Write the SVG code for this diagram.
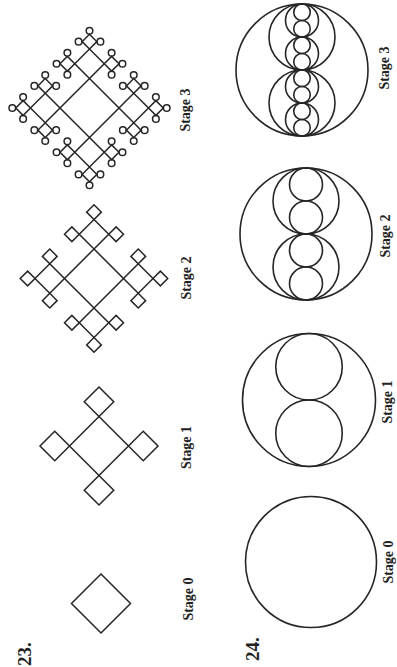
<svg xmlns="http://www.w3.org/2000/svg" xmlns:xlink="http://www.w3.org/1999/xlink" width="397" height="667" viewBox="0 0 397 667">
<style>
.ln{fill:none;stroke:#262626;stroke-width:1.5;stroke-linejoin:miter}
.cl{fill:none;stroke:#262626;stroke-width:1.6}
.lb{font-family:"Liberation Serif","Times New Roman",serif;font-size:14px;font-weight:bold;fill:#222;text-anchor:middle}
.num{font-family:"Liberation Serif","Times New Roman",serif;font-size:19px;font-weight:bold;fill:#222;text-anchor:middle}
</style>
<defs>
<path id="d2" class="ln" d="M0,0 L7.375,-7.375 L0,-14.75 L-7.375,-7.375 Z"/>
<path id="d1" class="ln" d="M0,0 L14.75,-14.75 L0,-29.5 L-14.75,-14.75 Z"/>
<path id="d0" class="ln" d="M0,-29.5 L29.5,0 L0,29.5 L-29.5,0 Z"/>
<g id="b2c">
<use xlink:href="#d2"/>
<circle class="ln" cx="0" cy="-18.2" r="3.3"/>
<circle class="ln" cx="-10.9" cy="-7.375" r="3.3"/>
<circle class="ln" cx="10.9" cy="-7.375" r="3.3"/>
</g>
<g id="b1s2">
<use xlink:href="#d1"/>
<use xlink:href="#d2" transform="translate(0,-29.5)"/>
<use xlink:href="#d2" transform="translate(-14.75,-14.75) rotate(-90)"/>
<use xlink:href="#d2" transform="translate(14.75,-14.75) rotate(90)"/>
</g>
<g id="b1s3">
<use xlink:href="#d1"/>
<use xlink:href="#b2c" transform="translate(0,-29.5)"/>
<use xlink:href="#b2c" transform="translate(-14.75,-14.75) rotate(-90)"/>
<use xlink:href="#b2c" transform="translate(14.75,-14.75) rotate(90)"/>
</g>
</defs>

<!-- Problem 23 -->
<g id="p23-stage0" transform="translate(101,603.5)">
<use xlink:href="#d0"/>
</g>
<g id="p23-stage1" transform="translate(99,446)">
<use xlink:href="#d0"/>
<use xlink:href="#d1" transform="translate(0,-29.5)"/>
<use xlink:href="#d1" transform="translate(0,29.5) rotate(180)"/>
<use xlink:href="#d1" transform="translate(-29.5,0) rotate(-90)"/>
<use xlink:href="#d1" transform="translate(29.5,0) rotate(90)"/>
</g>
<g id="p23-stage2" transform="translate(94,278.5)">
<use xlink:href="#d0"/>
<use xlink:href="#b1s2" transform="translate(0,-29.5)"/>
<use xlink:href="#b1s2" transform="translate(0,29.5) rotate(180)"/>
<use xlink:href="#b1s2" transform="translate(-29.5,0) rotate(-90)"/>
<use xlink:href="#b1s2" transform="translate(29.5,0) rotate(90)"/>
</g>
<g id="p23-stage3" transform="translate(89.5,108)">
<use xlink:href="#d0"/>
<use xlink:href="#b1s3" transform="translate(0,-29.5)"/>
<use xlink:href="#b1s3" transform="translate(0,29.5) rotate(180)"/>
<use xlink:href="#b1s3" transform="translate(-29.5,0) rotate(-90)"/>
<use xlink:href="#b1s3" transform="translate(29.5,0) rotate(90)"/>
</g>

<!-- Problem 24 -->
<g id="p24-stage0">
<circle class="cl" cx="311" cy="562" r="65.5"/>
</g>
<g id="p24-stage1" transform="translate(309,400)">
<circle class="cl" r="66.5"/>
<circle class="cl" cy="-33.25" r="33.25"/>
<circle class="cl" cy="33.25" r="33.25"/>
</g>
<g id="p24-stage2" transform="translate(306,234)">
<circle class="cl" r="66"/>
<circle class="cl" cy="-33" r="33"/>
<circle class="cl" cy="33" r="33"/>
<circle class="cl" cy="-49.5" r="16.5"/>
<circle class="cl" cy="-16.5" r="16.5"/>
<circle class="cl" cy="16.5" r="16.5"/>
<circle class="cl" cy="49.5" r="16.5"/>
</g>
<g id="p24-stage3" transform="translate(302,70)">
<circle class="cl" r="66"/>
<circle class="cl" cy="-33" r="33"/>
<circle class="cl" cy="33" r="33"/>
<circle class="cl" cy="-49.5" r="16.5"/>
<circle class="cl" cy="-16.5" r="16.5"/>
<circle class="cl" cy="16.5" r="16.5"/>
<circle class="cl" cy="49.5" r="16.5"/>
<circle class="cl" cy="-57.75" r="8.25"/>
<circle class="cl" cy="-41.25" r="8.25"/>
<circle class="cl" cy="-24.75" r="8.25"/>
<circle class="cl" cy="-8.25" r="8.25"/>
<circle class="cl" cy="8.25" r="8.25"/>
<circle class="cl" cy="24.75" r="8.25"/>
<circle class="cl" cy="41.25" r="8.25"/>
<circle class="cl" cy="57.75" r="8.25"/>
</g>

<!-- Labels -->
<g id="labels">
<text class="num" transform="translate(31,654) rotate(-90)">23.</text>
<text class="num" transform="translate(259,649) rotate(-90)">24.</text>
<text class="lb" transform="translate(189.5,110) rotate(-90)">Stage 3</text>
<text class="lb" transform="translate(190.5,278) rotate(-90)">Stage 2</text>
<text class="lb" transform="translate(190.5,447.5) rotate(-90)">Stage 1</text>
<text class="lb" transform="translate(192.5,599) rotate(-90)">Stage 0</text>
<text class="lb" transform="translate(388.5,68) rotate(-90)">Stage 3</text>
<text class="lb" transform="translate(390,236) rotate(-90)">Stage 2</text>
<text class="lb" transform="translate(391.5,402) rotate(-90)">Stage 1</text>
<text class="lb" transform="translate(392.5,562) rotate(-90)">Stage 0</text>
</g>
</svg>
